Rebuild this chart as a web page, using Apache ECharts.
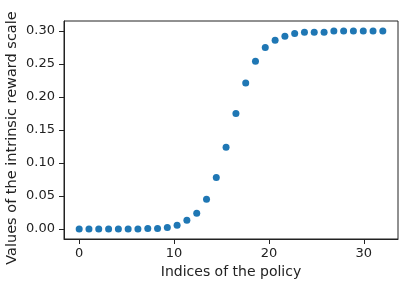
<!DOCTYPE html>
<html>
<head>
<meta charset="utf-8">
<script src="https://cdn.jsdelivr.net/npm/echarts@6/dist/echarts.min.js"></script>
<style>
html,body{margin:0;padding:0;background:#fff;}
#chart{width:408px;height:285px;}
</style>
</head>
<body>
<div id="chart"></div>
<script>
// Policy indices (x)
var policyIndex = [0, 1.03, 2.06, 3.10, 4.13, 5.16, 6.19, 7.23, 8.26, 9.29, 10.32, 11.35, 12.39, 13.42, 14.45, 15.48,
  16.52, 17.55, 18.58, 19.61, 20.65, 21.68, 22.71, 23.74, 24.77, 25.81, 26.84, 27.87, 28.90, 29.94, 30.97, 32];
// Intrinsic reward scale values (y)
var rewardScale = [0, 0, 0, 0, 0, 0, 0, 0.001, 0.001, 0.0025, 0.006, 0.0135, 0.024, 0.045, 0.078, 0.124,
  0.175, 0.221, 0.254, 0.275, 0.286, 0.292, 0.296, 0.298, 0.298, 0.298, 0.300, 0.300, 0.300, 0.300, 0.300, 0.300];
var xTicks = [0, 10, 20, 30];
var yTicks = [0, 0.05, 0.10, 0.15, 0.20, 0.25, 0.30];

var points = policyIndex.map(function (x, i) { return [x, rewardScale[i]]; });

var font = 'DejaVu Sans';
var chart = echarts.init(document.getElementById('chart'), null, {renderer: 'canvas'});
chart.setOption({
  animation: false,
  backgroundColor: '#ffffff',
  grid: {left: 64, right: 10, top: 21, bottom: 46, containLabel: false, outerBoundsMode: 'none',
    show: true, borderColor: '#222', borderWidth: 1, backgroundColor: 'transparent'},
  xAxis: {
    type: 'value', min: -1.6, max: 33.6,
    name: 'Indices of the policy', nameLocation: 'middle', nameGap: 26, nameMoveOverlap: false,
    nameTextStyle: {fontFamily: font, fontSize: 14, color: '#222'},
    axisLine: {show: true, onZero: false, lineStyle: {color: '#222', width: 1}},
    axisTick: {show: true, length: 5, lineStyle: {color: '#222'}, customValues: xTicks},
    axisLabel: {fontFamily: font, fontSize: 13, color: '#222', margin: 8, customValues: xTicks},
    splitLine: {show: false}
  },
  yAxis: {
    type: 'value', min: -0.015, max: 0.315,
    name: 'Values of the intrinsic reward scale', nameLocation: 'middle', nameGap: 44, nameMoveOverlap: false,
    nameTextStyle: {fontFamily: font, fontSize: 14.5, color: '#222', padding: [0, 16, 0, 0]},
    axisLine: {show: true, onZero: false, lineStyle: {color: '#222', width: 1}},
    axisTick: {show: true, length: 5, lineStyle: {color: '#222'}, customValues: yTicks},
    axisLabel: {fontFamily: font, fontSize: 13, color: '#222', margin: 9, customValues: yTicks,
      formatter: function (v) { return v.toFixed(2); }},
    splitLine: {show: false}
  },
  series: [{
    type: 'scatter',
    data: points,
    symbol: 'circle',
    symbolSize: 7,
    itemStyle: {color: '#1f77b4', opacity: 1}
  }]
});
</script>
</body>
</html>
